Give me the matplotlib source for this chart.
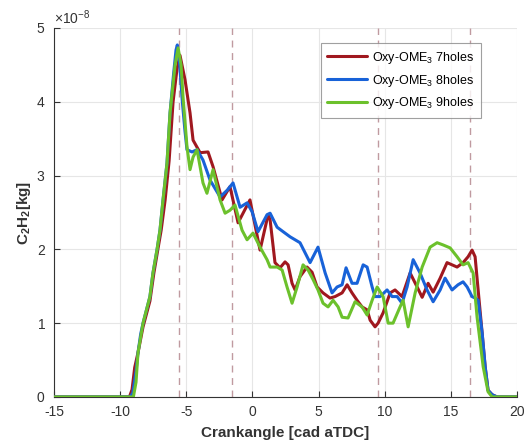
import matplotlib
matplotlib.use("Agg")
import matplotlib.pyplot as plt
import numpy as np
from matplotlib.ticker import ScalarFormatter

plt.rcParams['font.family'] = ['Liberation Sans', 'DejaVu Sans']
plt.rcParams['mathtext.fontset'] = 'custom'
plt.rcParams['mathtext.rm'] = 'Liberation Sans'
plt.rcParams['mathtext.bf'] = 'Liberation Sans:bold'
plt.rcParams['axes.unicode_minus'] = False

# crank angle [cad aTDC] and C2H2 mass [1e-8 kg]
x_7h = [-15, -9.3, -9.1, -8.9, -8.65, -8.27, -7.75, -7.45, -7.15, -6.9, -6.6, -6.3, -6.0, -5.7, -5.48,
        -5.1, -4.72, -4.49, -3.96, -3.36, -2.98, -2.30, -1.70, -1.09, -0.19, 0.57, 1.18, 1.33, 1.70,
        2.08, 2.46, 2.69, 2.99, 3.22, 3.59, 4.12, 4.50, 4.88, 5.33, 5.86, 6.24, 6.77, 7.15, 7.52, 7.90,
        8.28, 8.66, 8.89, 9.26, 9.49, 9.87, 10.40, 10.77, 11.30, 11.91, 12.44, 12.82, 13.27, 13.65,
        14.18, 14.70, 15.08, 15.46, 15.91, 16.29, 16.59, 16.82, 17.05, 17.35, 17.58, 17.80, 18.11,
        18.48, 20]
y_7h = [0, 0, 0.1, 0.4, 0.6, 0.95, 1.3, 1.68, 2.0, 2.26, 2.67, 3.2, 4.0, 4.45, 4.63,
        4.30, 3.85, 3.48, 3.31, 3.32, 3.12, 2.67, 2.85, 2.36, 2.67, 1.99, 2.47, 2.40, 1.82,
        1.75, 1.83, 1.79, 1.54, 1.45, 1.63, 1.76, 1.69, 1.49, 1.41, 1.34, 1.36, 1.41, 1.52, 1.41, 1.31,
        1.22, 1.18, 1.04, 0.95, 1.0, 1.14, 1.41, 1.45, 1.36, 1.68, 1.49, 1.35, 1.54, 1.42,
        1.61, 1.82, 1.79, 1.76, 1.82, 1.90, 1.99, 1.90, 1.45, 0.87, 0.41, 0.09, 0.03,
        0, 0]

x_8h = [-15, -9.25, -9.05, -8.8, -8.65, -8.45, -8.27, -7.75, -7.52, -7.21, -6.99, -6.76, -6.46, -6.23,
        -5.95, -5.78, -5.68, -5.5, -5.3, -5.1, -4.95, -4.57, -4.19, -3.74, -3.21, -2.45, -1.92, -1.47,
        -0.94, -0.41, -0.03, 0.42, 1.10, 1.33, 1.86, 2.31, 2.84, 3.59, 4.35, 4.95, 5.49, 6.01, 6.39,
        6.77, 7.07, 7.52, 7.90, 8.36, 8.66, 9.04, 9.26, 9.64, 10.17, 10.55, 10.93, 11.30, 11.68, 12.14,
        12.66, 13.19, 13.65, 14.18, 14.55, 15.08, 15.53, 15.91, 16.22, 16.59, 16.82, 17.05, 17.35,
        17.58, 17.80, 18.11, 18.48, 20]
y_8h = [0, 0, 0.05, 0.35, 0.6, 0.85, 1.0, 1.36, 1.68, 2.0, 2.26, 2.67, 3.17, 3.85,
        4.4, 4.7, 4.77, 4.5, 4.0, 3.6, 3.35, 3.32, 3.35, 3.21, 2.94, 2.71, 2.80, 2.90,
        2.57, 2.63, 2.51, 2.24, 2.47, 2.49, 2.30, 2.24, 2.17, 2.09, 1.82, 2.03, 1.68, 1.41, 1.49,
        1.52, 1.75, 1.54, 1.54, 1.79, 1.76, 1.49, 1.36, 1.36, 1.45, 1.36, 1.36, 1.27, 1.49, 1.86,
        1.68, 1.45, 1.29, 1.45, 1.61, 1.45, 1.52, 1.56, 1.49, 1.36, 1.34, 1.31, 0.87,
        0.41, 0.09, 0.03, 0, 0]

x_9h = [-15, -9.0, -8.8, -8.65, -8.27, -7.75, -7.52, -7.21, -6.99, -6.76, -6.46, -6.23, -5.85, -5.62,
        -5.4, -5.25, -4.95, -4.72, -4.49, -4.19, -3.74, -3.44, -2.98, -2.45, -2.07, -1.70, -1.32,
        -0.79, -0.41, 0.04, 0.57, 1.10, 1.33, 1.86, 2.24, 2.61, 2.99, 3.37, 3.82, 4.20, 4.58, 4.95,
        5.33, 5.71, 6.09, 6.47, 6.77, 7.22, 7.75, 8.28, 8.66, 9.04, 9.42, 9.87, 10.25, 10.62, 11.15,
        11.38, 11.76, 12.29, 12.82, 13.42, 13.95, 14.40, 14.93, 15.46, 15.91, 16.29, 16.67, 16.97,
        17.43, 17.80, 18.11, 20]
y_9h = [0, 0, 0.2, 0.6, 1.0, 1.36, 1.68, 2.0, 2.26, 2.67, 3.17, 3.85, 4.5, 4.73,
        4.5, 4.07, 3.39, 3.08, 3.25, 3.35, 2.90, 2.76, 3.08, 2.67, 2.49, 2.53, 2.60,
        2.26, 2.13, 2.22, 2.03, 1.86, 1.76, 1.76, 1.72, 1.49, 1.27, 1.49, 1.79, 1.72, 1.59, 1.45,
        1.27, 1.22, 1.31, 1.22, 1.08, 1.07, 1.29, 1.22, 1.11, 1.31, 1.49, 1.36, 1.0, 1.0, 1.22,
        1.31, 0.95, 1.41, 1.76, 2.03, 2.09, 2.06, 2.02, 1.90, 1.79, 1.82, 1.68, 1.08,
        0.41, 0.07, 0, 0]

marker_cad = [-5.55, -1.55, 9.45, 16.45]
labels = ['Oxy-OME$_3$ 7holes', 'Oxy-OME$_3$ 8holes', 'Oxy-OME$_3$ 9holes']
colors = ['#a0181f', '#1862d8', '#6cc12c']

fig = plt.figure(figsize=(5.24, 4.44), dpi=100)
ax = fig.add_axes([0.103, 0.106, 0.884, 0.831])

for xc in marker_cad:
    ax.axvline(xc, color='#c09aa0', linestyle=(0, (5, 4)), linewidth=1.0, zorder=1)

line_kw = dict(linewidth=2.2, solid_joinstyle='round', solid_capstyle='round', zorder=3)
ax.plot(x_7h, np.array(y_7h) * 1e-8, color=colors[0], label=labels[0], **line_kw)
ax.plot(x_8h, np.array(y_8h) * 1e-8, color=colors[1], label=labels[1], **line_kw)
ax.plot(x_9h, np.array(y_9h) * 1e-8, color=colors[2], label=labels[2], **line_kw)

ax.set_xlim(-15, 20)
ax.set_ylim(0, 5e-8)
ax.set_xticks(np.arange(-15, 21, 5))
ax.set_yticks(np.arange(0, 6) * 1e-8)
fmt = ScalarFormatter(useMathText=True)
fmt.set_powerlimits((-3, 3))
ax.yaxis.set_major_formatter(fmt)
ax.yaxis.get_offset_text().set_fontsize(10)
ax.yaxis.get_offset_text().set_color('#444444')

ax.grid(True, color='#e6e6e6', linewidth=0.8)
ax.set_axisbelow(True)
for side in ['top', 'right']:
    ax.spines[side].set_visible(False)
for side in ['left', 'bottom']:
    ax.spines[side].set_color('#333333')
    ax.spines[side].set_linewidth(0.8)
ax.tick_params(direction='in', length=4, labelsize=10, colors='#333333', labelcolor='#333333')
ax.tick_params(axis='x', pad=6)
ax.tick_params(axis='y', pad=6)

ax.set_xlabel('Crankangle [cad aTDC]', fontsize=11, fontweight='bold', color='#333333', labelpad=5)
ax.set_ylabel('C$_\\mathbf{2}$H$_\\mathbf{2}$[kg]', fontsize=11, fontweight='bold', color='#333333', labelpad=2)

leg = ax.legend(loc='upper right', bbox_to_anchor=(0.935, 0.975), fontsize=9, frameon=True,
                fancybox=False, edgecolor='#888888', handlelength=3.2, borderpad=0.5,
                labelspacing=0.55, handletextpad=0.4)
leg.get_frame().set_linewidth(0.8)

fig.savefig('out.png', dpi=100)
